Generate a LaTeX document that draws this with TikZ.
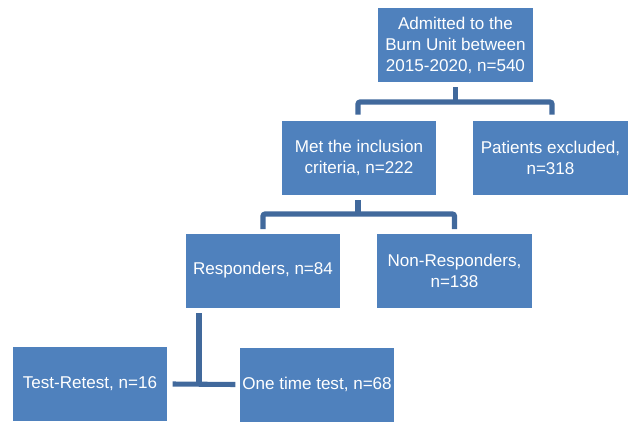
\documentclass[tikz,border=0pt]{standalone}
\usepackage{fontspec}
\setmainfont{Liberation Sans}
\usetikzlibrary{calc}
\definecolor{boxblue}{HTML}{4F81BD}
\definecolor{lineblue}{HTML}{41699C}
\tikzset{
  box/.style={rectangle, fill=boxblue, text=white, minimum width=116pt, minimum height=55.5pt,
    inner sep=0pt, align=center, font=\fontsize{12.8pt}{15.75pt}\selectfont},
  conn/.style={draw=lineblue, line width=3.8pt, rounded corners=1.5pt}
}
\begin{document}
\begin{tikzpicture}[x=0.75pt,y=-0.75pt]
\useasboundingbox (0,0) rectangle (631,421);
\node[box] (A) at (455.5,45) {Admitted to the\\Burn Unit between\\2015-2020, n=540};
\node[box] (B) at (359,158) {Met the inclusion\\criteria, n=222};
\node[box] (C) at (550.5,158) {Patients excluded,\\n=318};
\node[box] (E) at (263,270.5) {Responders, n=84};
\node[box] (D) at (454.5,270.5) {Non-Responders,\\n=138};
\node[box] (G) at (90,384) {Test-Retest, n=16};
\node[box] (F) at (317,384.5) {One time test, n=68};
\coordinate (j1) at (455.5,102);
\coordinate (bt) at ($(B.north)+(-1,-6)$);
\coordinate (ct) at ($(C.north)+(1.5,-6)$);
\coordinate (j2) at (358,214);
\coordinate (s3) at (199,313);
\coordinate (j3) at (199,384);
\draw[conn] ($(A.south)+(0,5)$) -- (j1);
\draw[conn] (bt) -- (bt |- j1) -- (ct |- j1) -- (ct);
\draw[conn] ($(B.south)+(-1,5)$) -- (j2);
\draw[conn] ($(E.north)+(0,-4)$) -- (E.north |- j2) -- (D.north |- j2) -- ($(D.north)+(0,-4)$);
\draw[conn] (s3) -- (j3);
\draw[conn] ($(G.east)+(5,0)$) -- ($(F.west)+(-4,0)$);
\end{tikzpicture}
\end{document}
